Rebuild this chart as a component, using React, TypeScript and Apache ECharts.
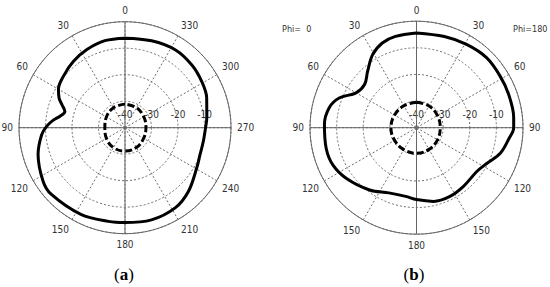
import React, { useEffect, useRef } from "react";
import * as echarts from "echarts";

// Pattern (a): angle (deg, counter-clockwise from top) and gain (dB)
const leftAngles = [0, 13, 26, 38, 50, 60, 66, 70, 75, 80, 84, 89, 95, 107, 123, 132, 153, 170, 180, 196, 212, 225, 241, 250, 260, 270, 277, 290, 301, 313, 327, 343, 360];
const leftGain = [-6.2, -6.3, -7.2, -8.3, -9.7, -11.0, -12.8, -14.7, -16.5, -15.1, -12.8, -10.4, -8.4, -5.7, -3.1, -2.5, -3.3, -4.1, -4.2, -3.8, -4.3, -6.1, -9.0, -9.9, -10.0, -9.6, -8.9, -7.2, -6.2, -5.4, -5.0, -5.7, -6.2];
const leftInnerAngles = [0, 30, 60, 90, 120, 150, 180, 210, 240, 270, 300, 330, 360];
const leftInnerGain = [-31.1, -31.3, -31.9, -32.4, -31.9, -31.3, -31.2, -31.4, -31.9, -32.1, -31.8, -31.3, -31.1];

// Pattern (b)
const rightAngles = [0, 13, 22, 31, 41, 50, 60, 69, 77, 88, 103, 114, 126, 143, 157, 171, 180, 193, 206, 219, 234, 243, 253, 263, 270, 276, 290, 302, 315, 329, 343, 360];
const rightGain = [-4.4, -4.8, -5.7, -8.0, -12.0, -14.6, -13.8, -8.9, -6.4, -5.4, -5.2, -5.6, -7.5, -10.7, -13.4, -13.9, -13.0, -11.6, -11.3, -11.8, -12.0, -10.4, -7.1, -5.1, -3.5, -3.3, -3.2, -3.1, -2.8, -3.5, -4.2, -4.4];
const rightInnerAngles = [0, 30, 60, 90, 120, 150, 180, 210, 240, 270, 300, 330, 360];
const rightInnerGain = [-30.4, -30.5, -30.5, -30.4, -30.5, -30.5, -30.4, -30.6, -30.9, -31.1, -30.9, -30.6, -30.4];

const radiusTicks = { min: -40, max: 0, step: 10 };
const captions = ["a", "b"];
const phiLabels = ["Phi=  0", "Phi=180"];

const FONT = "'DejaVu Sans Condensed', 'Liberation Sans', sans-serif";
const GRID = "#6e6e6e";

const toAxis = (a: number) => (a > 270 ? a - 360 : a);
const pairs = (angles: number[], gains: number[]) =>
  angles.map((a, i) => [gains[i], toAxis(a)]);

export default function App() {
  const ref = useRef<HTMLDivElement>(null);
  useEffect(() => {
    if (!ref.current) return;
    const chart = echarts.init(ref.current, null, { renderer: "svg" });

    const angleAxis = (idx: number, mirror: boolean) => ({
      polarIndex: idx,
      type: "value",
      min: -90,
      max: 270,
      interval: 30,
      startAngle: 0,
      clockwise: false,
      axisLine: { show: true, lineStyle: { color: "#666", width: 1 } },
      axisTick: { show: false },
      axisLabel: {
        show: true,
        margin: 6,
        color: "#333",
        fontSize: 10,
        fontFamily: FONT,
        formatter: (v: number) => {
          const a = v < 0 ? v + 360 : v;
          return String(mirror ? (a <= 180 ? a : 360 - a) : a);
        },
      },
      splitLine: { show: true, lineStyle: { color: GRID, type: [2, 2], width: 1 } },
    });
    const radiusAxis = (idx: number) => ({
      polarIndex: idx,
      type: "value",
      min: radiusTicks.min,
      max: radiusTicks.max,
      interval: radiusTicks.step,
      axisLine: { show: false },
      axisTick: { show: false },
      axisLabel: {
        show: true,
        color: "#333",
        fontSize: 10,
        fontFamily: FONT,
        formatter: (v: number) => (v === radiusTicks.max ? "" : String(v)),
      },
      splitLine: { show: true, lineStyle: { color: GRID, type: [2, 2], width: 1 } },
    });
    const cross = (idx: number) => [
      {
        type: "line", coordinateSystem: "polar", polarIndex: idx, symbol: "none", silent: true,
        lineStyle: { color: "#666", width: 1 },
        data: [[0, 0], [-40, 0], [0, 180]],
        z: 1,
      },
      {
        type: "line", coordinateSystem: "polar", polarIndex: idx, symbol: "none", silent: true,
        lineStyle: { color: "#666", width: 1 },
        data: [[0, 90], [-40, 90], [0, -90]],
        z: 1,
      },
    ];
    const curve = (idx: number, data: number[][]) => ({
      type: "line", coordinateSystem: "polar", polarIndex: idx, symbol: "none", smooth: 0.35,
      lineStyle: { color: "#000", width: 3 },
      data, z: 3,
    });
    const inner = (idx: number, data: number[][]) => ({
      type: "line", coordinateSystem: "polar", polarIndex: idx, symbol: "none", smooth: 0.4,
      lineStyle: { color: "#000", width: 3, type: [7, 3] },
      data, z: 3,
    });

    chart.setOption({
      animation: false,
      backgroundColor: "#fff",
      polar: [
        { center: [125, 127.7], radius: 106 },
        { center: [416.5, 127.7], radius: 106.5 },
      ],
      angleAxis: [angleAxis(0, false), angleAxis(1, true)],
      radiusAxis: [radiusAxis(0), radiusAxis(1)],
      series: [
        ...cross(0),
        ...cross(1),
        curve(0, pairs(leftAngles, leftGain)),
        inner(0, pairs(leftInnerAngles, leftInnerGain)),
        curve(1, pairs(rightAngles, rightGain)),
        inner(1, pairs(rightInnerAngles, rightInnerGain)),
      ],
      graphic: [
        { type: "text", left: 282, top: 24, style: { text: phiLabels[0], fontSize: 9, fontFamily: FONT, fill: "#333" } },
        { type: "text", left: 513, top: 24, style: { text: phiLabels[1], fontSize: 9, fontFamily: FONT, fill: "#333" } },
        ...captions.map((c, i) => ({
          type: "text",
          x: i === 0 ? 124 : 414,
          y: 274,
          style: {
            text: `{p|(}{b|${c}}{p|)}`,
            align: "center",
            verticalAlign: "middle",
            rich: {
              p: { fontFamily: "'Liberation Serif', serif", fontSize: 17, fill: "#000" },
              b: { fontFamily: "'Liberation Serif', serif", fontSize: 17, fontWeight: "bold", fill: "#000" },
            },
          },
        })),
      ],
    });
    return () => chart.dispose();
  }, []);
  return (
    <div
      ref={ref}
      style={{ position: "fixed", left: 0, top: 0, width: 550, height: 287, background: "#fff" }}
    />
  );
}
